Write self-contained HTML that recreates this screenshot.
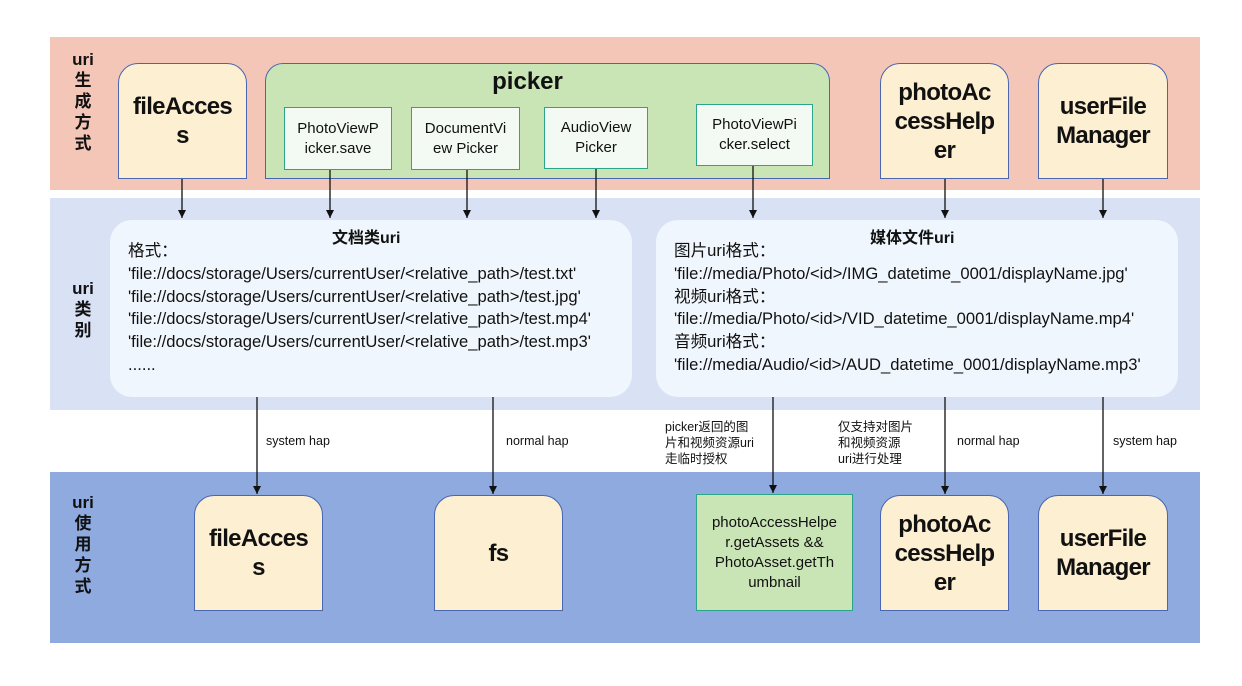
<!DOCTYPE html>
<html><head><meta charset="utf-8"><style>
body{margin:0;width:1242px;height:686px;background:#fff;position:relative;overflow:hidden;font-family:"Liberation Sans","Noto Sans CJK SC",sans-serif;color:#111}
div{position:absolute;box-sizing:border-box}
.band{left:50px;width:1150px}
.side{font-weight:bold;font-size:17px;line-height:21px;text-align:center;width:30px;left:68px}
.cream{background:#fcefd2;border:1.5px solid #4a66b0;border-radius:20px 20px 0 0;display:flex;align-items:center;justify-content:center;text-align:center;font-size:24px;font-weight:bold;line-height:29px;letter-spacing:-0.7px}
.sub{background:#f2faf3;border:1.5px solid #2aa58a;display:flex;align-items:center;justify-content:center;text-align:center;font-size:15px;line-height:20px}
.uri{background:#f0f6fd;border-radius:22px;font-size:16.6px;line-height:22.8px;padding:20px 0 0 18px;white-space:nowrap}
.uri b{position:absolute;top:8px;font-size:16px}
.lbl{font-size:12.5px;line-height:16px;white-space:nowrap}
</style></head><body>
<div class="band" style="top:37px;height:153px;background:#f4c6b7"></div>
<div class="band" style="top:198px;height:212px;background:#d9e1f4"></div>
<div class="band" style="top:472px;height:171px;background:#8eaadf"></div>

<div class="side" style="top:49px">uri<br>生<br>成<br>方<br>式</div>
<div class="side" style="top:278px">uri<br>类<br>别</div>
<div class="side" style="top:492px">uri<br>使<br>用<br>方<br>式</div>

<div class="cream" style="left:118px;top:63px;width:129px;height:116px">fileAcces<br>s</div>
<div style="left:265px;top:63px;width:565px;height:116px;background:#c9e4b5;border:1.5px solid #4a66b0;border-radius:18px 18px 0 0"></div>
<div style="left:265px;top:68px;width:525px;text-align:center;font-size:24px;font-weight:bold">picker</div>
<div class="sub" style="left:284px;top:107px;width:108px;height:63px">PhotoViewP<br>icker.save</div>
<div class="sub" style="left:411px;top:107px;width:109px;height:63px">DocumentVi<br>ew Picker</div>
<div class="sub" style="left:544px;top:107px;width:104px;height:62px">AudioView<br>Picker</div>
<div class="sub" style="left:696px;top:104px;width:117px;height:62px">PhotoViewPi<br>cker.select</div>
<div class="cream" style="left:880px;top:63px;width:129px;height:116px">photoAc<br>cessHelp<br>er</div>
<div class="cream" style="left:1038px;top:63px;width:130px;height:116px">userFile<br>Manager</div>

<div class="uri" style="left:110px;top:220px;width:522px;height:177px"><b style="left:222px">文档类uri</b>格式：<br>'file://docs/storage/Users/currentUser/&lt;relative_path&gt;/test.txt'<br>'file://docs/storage/Users/currentUser/&lt;relative_path&gt;/test.jpg'<br>'file://docs/storage/Users/currentUser/&lt;relative_path&gt;/test.mp4'<br>'file://docs/storage/Users/currentUser/&lt;relative_path&gt;/test.mp3'<br>......</div>
<div class="uri" style="left:656px;top:220px;width:522px;height:177px"><b style="left:214px">媒体文件uri</b>图片uri格式：<br>'file://media/Photo/&lt;id&gt;/IMG_datetime_0001/displayName.jpg'<br>视频uri格式：<br>'file://media/Photo/&lt;id&gt;/VID_datetime_0001/displayName.mp4'<br>音频uri格式：<br>'file://media/Audio/&lt;id&gt;/AUD_datetime_0001/displayName.mp3'</div>

<div class="cream" style="left:194px;top:495px;width:129px;height:116px">fileAcces<br>s</div>
<div class="cream" style="left:434px;top:495px;width:129px;height:116px">fs</div>
<div class="sub" style="left:696px;top:494px;width:157px;height:117px;background:#c9e4b5;font-size:15px">photoAccessHelpe<br>r.getAssets &amp;&amp;<br>PhotoAsset.getTh<br>umbnail</div>
<div class="cream" style="left:880px;top:495px;width:129px;height:116px">photoAc<br>cessHelp<br>er</div>
<div class="cream" style="left:1038px;top:495px;width:130px;height:116px">userFile<br>Manager</div>

<div class="lbl" style="left:266px;top:433px">system hap</div>
<div class="lbl" style="left:506px;top:433px">normal hap</div>
<div class="lbl" style="left:665px;top:419px">picker返回的图<br>片和视频资源uri<br>走临时授权</div>
<div class="lbl" style="left:838px;top:419px">仅支持对图片<br>和视频资源<br>uri进行处理</div>
<div class="lbl" style="left:957px;top:433px">normal hap</div>
<div class="lbl" style="left:1113px;top:433px">system hap</div>

<svg width="1242" height="686" style="position:absolute;left:0;top:0">
<defs><marker id="a" markerWidth="9" markerHeight="9" refX="8" refY="4" orient="auto" markerUnits="userSpaceOnUse"><path d="M0,0 L8,4 L0,8z" fill="#111"/></marker></defs>
<g stroke="#111" stroke-width="1.3" marker-end="url(#a)">
<line x1="182" y1="179" x2="182" y2="218"/>
<line x1="330" y1="170" x2="330" y2="218"/>
<line x1="467" y1="170" x2="467" y2="218"/>
<line x1="596" y1="169" x2="596" y2="218"/>
<line x1="753" y1="166" x2="753" y2="218"/>
<line x1="945" y1="179" x2="945" y2="218"/>
<line x1="1103" y1="179" x2="1103" y2="218"/>
<line x1="257" y1="397" x2="257" y2="494"/>
<line x1="493" y1="397" x2="493" y2="494"/>
<line x1="773" y1="397" x2="773" y2="493"/>
<line x1="945" y1="397" x2="945" y2="494"/>
<line x1="1103" y1="397" x2="1103" y2="494"/>
</g></svg>
</body></html>
